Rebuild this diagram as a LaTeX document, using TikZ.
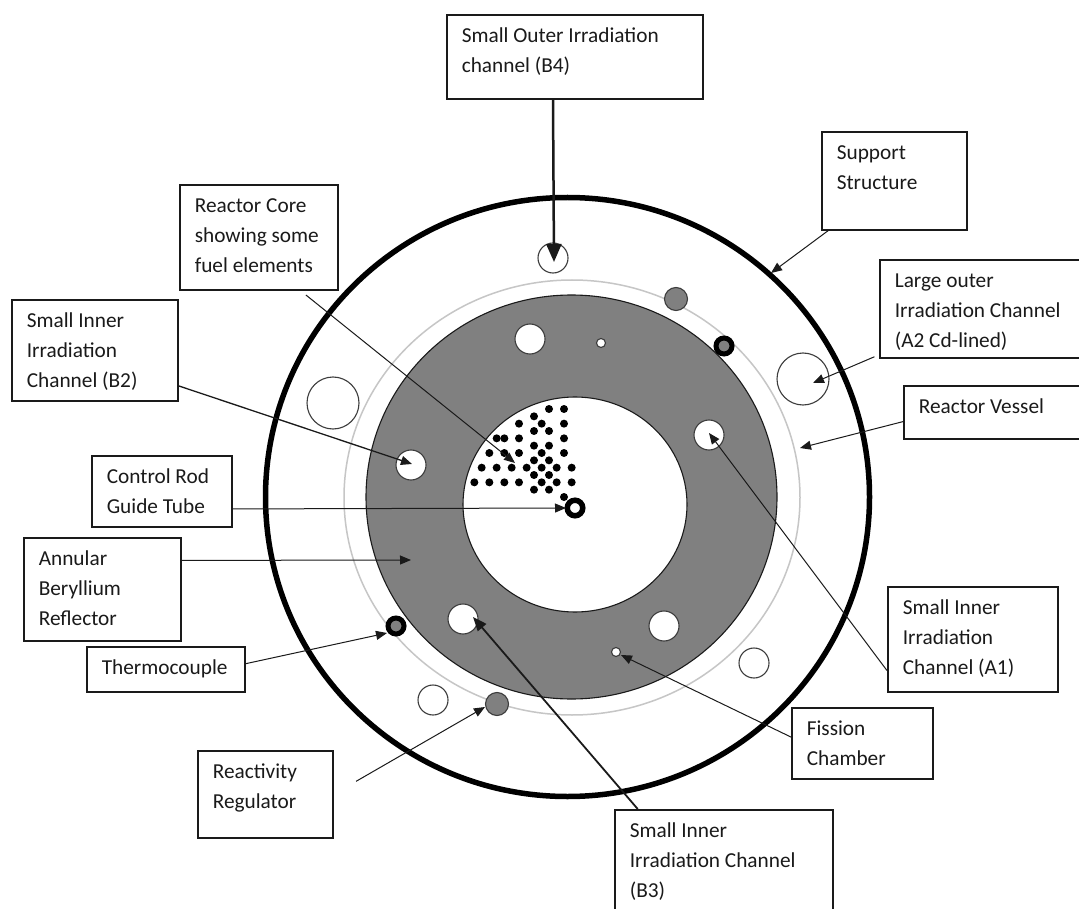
\documentclass[tikz,border=0pt]{standalone}
\usepackage{fontspec}
\setmainfont{Carlito}
\usetikzlibrary{arrows.meta,shapes.geometric}
\definecolor{refl}{HTML}{808080}
\definecolor{ink}{HTML}{1A1A1A}
\newcommand{\labtext}[3]{\parbox[c][#2pt][t]{#1pt}{\fontsize{21.3}{30}\selectfont\leftskip=15pt\rule{0pt}{28pt}#3}}
\tikzset{
  lbl/.style={draw=ink,line width=1.6pt,fill=white,anchor=north west,inner sep=0pt,text=ink},
  disc/.style={ellipse,inner sep=0pt,draw=ink},
  hole/.style={circle,inner sep=0pt,draw=ink!85,line width=1.1pt,fill=white},
  ghost/.style={circle,inner sep=0pt,draw=ink!85,line width=1.1pt},
  regul/.style={circle,inner sep=0pt,draw=ink!85,line width=1.1pt,fill=refl,minimum size=23pt},
  thermo/.style={circle,inner sep=0pt,draw=black,line width=5pt,fill=refl,minimum size=16pt},
  arr/.style={draw=ink,line width=1pt,-{Triangle[length=11pt,width=9pt]}}
}
\begin{document}
\begin{tikzpicture}[x=1pt,y=-1pt]
\useasboundingbox (0,0) rectangle (1079,909);
\clip (0,0) rectangle (1079,909);
\fill[white] (0,0) rectangle (1079,909);
% vessel and core
\node[disc,draw=black,line width=5.5pt,minimum width=604pt,minimum height=599pt] (support) at (567.5,497) {};
\node[disc,draw=ink!25,line width=1.5pt,minimum width=456pt,minimum height=435pt] (vessel) at (572,497.5) {};
\node[disc,fill=refl,line width=1.1pt,minimum width=411pt,minimum height=404pt] (reflector) at (571.5,497) {};
\node[disc,fill=white,line width=1.1pt,minimum width=224pt,minimum height=215pt] (core) at (575,504.5) {};
% channels
\node[hole,minimum size=30pt] (b4h) at (553,258) {};
\node[hole,minimum size=30pt] (c1) at (530,339) {};
\node[hole,minimum size=30pt] (a1h) at (709,435) {};
\node[hole,minimum size=30pt] (b2h) at (411,465) {};
\node[hole,minimum size=30pt] (b3h) at (463,619) {};
\node[hole,minimum size=30pt] (c2) at (664,626) {};
\node[hole,minimum size=9pt] (c3) at (601,343) {};
\node[hole,minimum size=9pt] (fch) at (616,652) {};
\node[ghost,minimum size=52pt] (c4) at (333,403) {};
\node[ghost,minimum size=52pt] (a2h) at (803,379) {};
\node[ghost,minimum size=30pt] (c5) at (754,663) {};
\node[ghost,minimum size=30pt] (c6) at (433,700) {};
\node[regul] (r1) at (676,299) {};
\node[regul] (r2) at (497,704) {};
\node[thermo] (t1) at (724,346) {};
\node[thermo] (t2) at (396,626) {};
\node[circle,inner sep=0pt,draw=black,line width=5.5pt,fill=white,minimum size=15.5pt] (crt) at (575,508) {};
% fuel elements
\foreach \zx/\zy in {327/87,372/87,282/109,237/131,305/131,372/131,282/153,327/153,
  170/175,193/175,237/175,372/175,282/197,327/197,148/219,193/219,237/219,305/219,372/219,
  282/241,327/241,125/263,170/263,215/263,260/263,305/263,350/263,395/263,282/285,327/285,
  103/307,148/307,193/307,237/307,305/307,350/307,395/307,282/329,327/329,372/351}
  \fill[black] ({440+\zx/3},{380+\zy/3}) circle (4pt);
% labels
\node[lbl] (lb4) at (446,14) {\labtext{256}{84}{Small Outer Irradiation\\channel (B4)}};
\node[lbl] (lss) at (821,131) {\labtext{145}{98}{Support\\Structure}};
\node[lbl] (llo) at (879,259) {\labtext{205}{98}{Large outer\\Irradiation Channel\\(A2 Cd-lined)}};
\node[lbl] (lrv) at (903,385) {\labtext{175.5}{53}{Reactor Vessel}};
\node[lbl] (la1) at (887,586) {\labtext{170}{105}{Small Inner\\Irradiation\\Channel (A1)}};
\node[lbl] (lfc) at (791,707) {\labtext{141}{71}{Fission\\Chamber}};
\node[lbl] (lb3) at (614,809) {\labtext{218}{106}{Small Inner\\Irradiation Channel\\(B3)}};
\node[lbl] (lrr) at (197,750) {\labtext{135}{87}{Reactivity\\Regulator}};
\node[lbl] (ltc) at (86,646) {\labtext{158}{45}{Thermocouple}};
\node[lbl] (lbe) at (23,537) {\labtext{157}{103}{Annular\\Beryllium\\Reflector}};
\node[lbl] (lcr) at (91,455) {\labtext{140}{71}{Control Rod\\Guide Tube}};
\node[lbl] (lb2) at (11,299) {\labtext{166}{101}{Small Inner\\Irradiation\\Channel (B2)}};
\node[lbl] (lrc) at (179,184) {\labtext{158}{105}{Reactor Core\\showing some\\fuel elements}};
% arrow tips
\coordinate (tb4) at (554,262);
\coordinate (tss) at (771,273);
\coordinate (tlo) at (813,383);
\coordinate (trv) at (800,448);
\coordinate (ta1) at (709,433);
\coordinate (tfc) at (621,655);
\coordinate (tb3) at (473,617);
\coordinate (trr) at (485,707);
\coordinate (ttc) at (387,633);
\coordinate (tbe) at (411,560);
\coordinate (tcr) at (566,508);
\coordinate (tb2) at (412,464);
\coordinate (trc) at (515,463);
% connectors
\draw[arr,line width=2.5pt,-{Triangle[length=18pt,width=15pt]}] (lb4.-117.1) -- (tb4);
\draw[arr] (lss.-143.1) -- (tss);
\draw[arr,shorten <=5pt] (llo.-156.6) -- (tlo);
\draw[arr] (lrv.-174.5) -- (trv);
\draw[arr] (la1.-160.9) -- (ta1);
\draw[arr] (lfc.175.5) -- (tfc);
\draw[arr,line width=1.8pt,-{Triangle[length=14pt,width=11pt]}] (lb3.148.4) -- (tb3);
\draw[arr,shorten <=26pt] (lrr.east) -- (trr);
\draw[arr] (ltc.4.7) -- (ttc);
\draw[arr] (lbe.20) -- (tbe);
\draw[arr] (lcr.-14) -- (tcr);
\draw[arr,line width=1.3pt] (lb2.-23.2) -- (tb2);
\draw[arr,shorten <=7pt] (lrc.-52) -- (trc);
\end{tikzpicture}
\end{document}
